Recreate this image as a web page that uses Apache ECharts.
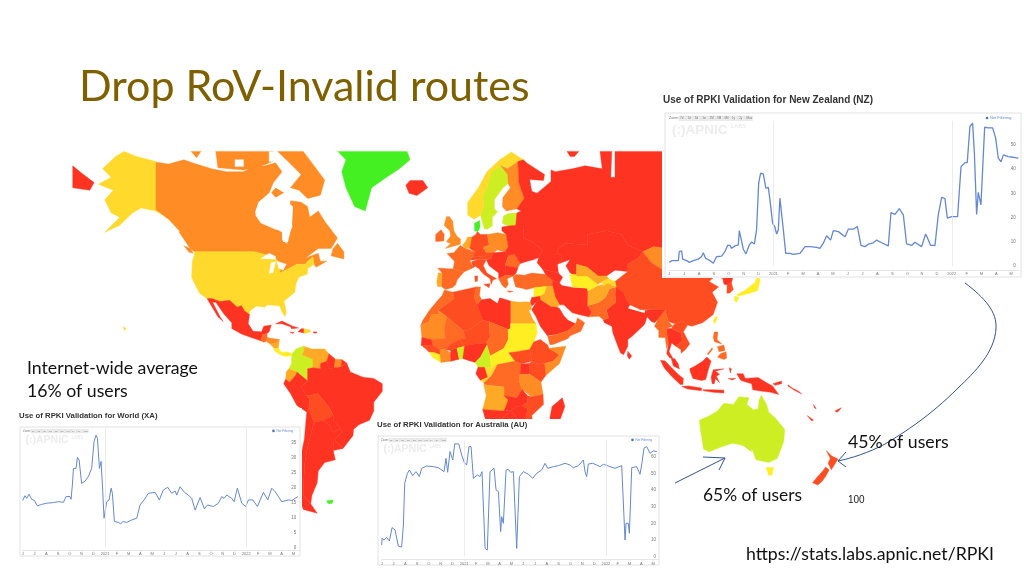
<!DOCTYPE html>
<html lang="en">
<head>
<meta charset="UTF-8">
<title>Drop RoV-Invalid routes</title>
<script src="https://cdn.jsdelivr.net/npm/echarts@6/dist/echarts.min.js"></script>
<style>html,body{margin:0;padding:0;background:#fff}</style>
</head>
<body>
<div id="main" style="width:1024px;height:576px;"></div>
<script>
// x axis of all three insets, one label per month from Jul 2020
const monthLabels = ['J','J','A','S','O','N','D','2021','F','M','A','M','J','J','A','S','O','N','D','2022','F','M','A','M'];
const yearLines = [7, 19];
const zoomButtons = ['7d','1d','3d','1w','1M','3M','6M','1y','2y','Max'];

// [month, percent]
const nzValues = [[0,1.5],[.16,2.2],[.61,2.2],[.67,5.9],[.83,6.3],[.9,2.8],[1.17,2.2],[1.35,1.5],[1.61,2.2],[1.95,2.8],[2.17,3.9],[2.29,5.5],[2.44,3.2],[2.74,2.2],[2.96,1.1],[3.18,3.9],[3.52,4.1],[3.74,5.9],[3.92,8.5],[4.08,8.5],[4.19,7.3],[4.42,8.3],[4.64,8.7],[4.71,14.6],[4.82,13.8],[4.98,6.9],[5.16,5],[5.38,8.7],[5.54,9.9],[5.72,9.1],[5.87,14.9],[6.01,34.2],[6.14,38.3],[6.32,38],[6.5,32.1],[6.66,32.5],[6.77,27.3],[6.95,17.6],[7.09,16.3],[7.22,13.2],[7.33,14.9],[7.44,28],[7.56,28.4],[7.67,14.9],[7.83,5.2],[8.12,5.2],[8.34,4.8],[8.79,5.2],[9.13,8],[9.46,8],[9.91,7.7],[10.13,7.3],[10.36,9.4],[10.58,12.5],[10.85,10.7],[11.03,14.6],[11.37,14.2],[11.82,12.1],[12.04,15.2],[12.38,15.2],[12.65,16.3],[12.89,8.5],[13.16,8],[13.39,9],[13.72,9.6],[13.95,10.7],[14.28,9.6],[14.73,8.3],[14.91,22],[15.18,21.3],[15.47,23.7],[15.74,21.1],[15.96,9.1],[16.3,8.5],[16.52,9.8],[16.97,8],[17.24,13.2],[17.38,11.4],[17.58,8.5],[17.87,8.5],[18.09,21.1],[18.32,28.4],[18.54,27.8],[18.7,19.8],[18.99,20.4],[19.39,20.4],[19.62,41],[19.89,42.7],[20.04,42.7],[20.22,57.6],[20.4,59],[20.52,46.6],[20.67,21.3],[20.78,30.4],[20.96,25.2],[21.21,57.3],[21.46,57],[21.75,57],[21.95,52.8],[22.13,44.5],[22.31,43],[22.47,45.9],[22.8,45.2],[23.14,44.9],[23.48,44.5]];
const worldValues = [[0,15.6],[.2,17.2],[.34,16.3],[.54,17.7],[.76,16],[.99,15.6],[1.25,13.8],[1.61,14.3],[2.04,14.7],[2.61,14.9],[3.03,15.2],[3.46,15],[3.68,16.9],[4.02,16.9],[4.11,16],[4.22,20.8],[4.31,26.3],[4.53,26.3],[4.65,30],[4.79,29.1],[5.01,21.3],[5.3,22.1],[5.58,23.6],[5.86,26.3],[6.06,35.2],[6.23,37.4],[6.35,36.3],[6.52,26.3],[6.66,28.6],[6.8,18.6],[6.91,9.7],[7.14,15.2],[7.34,15.8],[7.51,19.7],[7.62,18],[7.79,8.6],[8.13,8.3],[8.33,7.8],[8.5,8.6],[8.84,8.3],[9.26,9.1],[9.69,9.7],[9.97,14.1],[10.31,15.8],[10.68,18],[11.25,18.3],[11.61,15.8],[11.95,19.1],[12.32,20],[12.66,18],[12.95,18.8],[13.09,17.4],[13.37,20.2],[13.74,18.3],[14.08,17.4],[14.36,16.3],[14.65,12.4],[15.07,16.6],[15.44,12.8],[15.69,14.1],[16.2,13.6],[16.63,14.7],[16.91,16.9],[17.11,16.3],[17.34,17.4],[17.76,16.3],[17.96,15.2],[18.24,19.7],[18.39,19.4],[18.61,14.7],[18.95,13.6],[19.18,15.8],[19.55,15.8],[19.94,13.6],[20.45,18.3],[20.82,15.8],[21.16,19.7],[21.44,18.6],[22.01,15.2],[22.58,15.8],[22.86,15.6],[23.37,16.9]];
const auValues = [[0,7],[.03,11],[.2,10],[.42,11.6],[.65,9.4],[.88,17.5],[1.13,16.1],[1.41,6.4],[1.69,5.8],[1.84,19.1],[1.95,44.2],[2.18,50.2],[2.34,52.2],[2.63,48.8],[2.91,51.2],[3.19,48.2],[3.39,53.2],[3.81,54.6],[4.38,54.2],[4.8,53.6],[5.28,51.2],[5.45,59.2],[5.59,50.8],[5.79,63.3],[6.02,58.2],[6.19,67.9],[6.53,67.9],[6.78,61.2],[7.01,56.6],[7.2,55.2],[7.4,66.3],[7.57,66.3],[7.77,47.2],[8.11,49.2],[8.33,48.2],[8.5,51.2],[8.76,5],[8.95,4],[9.18,51.2],[9.52,53.2],[9.69,40.2],[9.89,39.2],[9.97,29.1],[10.08,15.1],[10.17,24.1],[10.31,20.1],[10.54,52.2],[10.73,52.6],[10.93,50.8],[11.16,51.2],[11.44,5],[11.67,48.2],[12.01,51.2],[12.43,49.6],[12.8,47.2],[13.14,50.2],[13.56,52.2],[13.84,56.2],[14.07,53.2],[14.55,54.2],[14.97,54.8],[15.54,56.2],[15.96,55.2],[16.24,53.6],[16.67,54.8],[17.09,58.2],[17.23,51.2],[17.37,48.2],[17.51,55.8],[17.88,56.2],[18.22,55.2],[18.5,54.2],[18.79,55.6],[19.35,54.2],[19.77,53.2],[20.34,54.8],[20.62,10],[20.71,20.1],[20.9,20.1],[20.99,14.1],[21.19,53.6],[21.61,54.2],[21.89,49.6],[22.03,55.2],[22.23,65.3],[22.46,66.3],[22.74,62.2],[23.02,63.7],[23.31,63.3]];

// map colour classes, low share of users (red) to high (green), last one is water
const bandColors = ['#FF3322','#FF4D22','#FF6A24','#FF8C24','#FFAA26','#FFD92B','#FFEE22','#CDEE22','#44F022','#FFFFFF'];

// [country, colour class, rings of lon/lat], rough outlines
const mapShapes = [
['Alaska',5,[[[-141,69.7],[-150,70.5],[-156,71.3],[-160,70.5],[-166,68.5],[-162,67],[-168,65.7],[-161,64.5],[-165,62.5],[-162,59.5],[-158,58.5],[-165,54.6],[-158,56.5],[-152,59.5],[-148,60.7],[-141,60],[-135,58],[-130,55],[-133,58.5],[-137,59.2],[-141,60.3]],[[-156.2,20.8],[-155,19.8],[-155.8,19]]]],
['Canada',3,[[[-141,69.6],[-135,69.3],[-128,70],[-124,69.5],[-115,68.5],[-108,68],[-100,68],[-95,69],[-90,69],[-85,69.5],[-82,68],[-86,66],[-88,64],[-93,62],[-94.5,59],[-92,57],[-85,55.3],[-82,55],[-82,52.5],[-79.5,51.3],[-79,54],[-77,56],[-78,58.5],[-78,62.3],[-73,62],[-70,61],[-69,58.5],[-65,60],[-62,57.5],[-56,53],[-59,50],[-65,50],[-67,49],[-71,47],[-65,48.5],[-64,46],[-61,46],[-66,44],[-67,45],[-67.5,47.3],[-70,46],[-71,45],[-75,45],[-79,43.5],[-83,42],[-82.5,45],[-84.5,46.5],[-89,48],[-95,49],[-123,49],[-125,50],[-130,54.5],[-130,55],[-135,58],[-141,60.3]],[[-84,71.3],[-72,71.3],[-62,66.5],[-64,63.5],[-70,62.8],[-74,64.5],[-78,65],[-73,67.5],[-80,70]],[[-113,71.3],[-86,71.3],[-86,69.8],[-90,69.2],[-100,68.3],[-112,68.7]]]],
['Vancouver Island',3,[[[-128,50.8],[-125,50],[-123.5,48.5],[-125.5,48.8]]]],
['Newfoundland',3,[[[-59,47.7],[-53,46.7],[-53,49],[-56,51.5],[-58,50]]]],
['Banks Island',3,[[[-124.5,71.3],[-120,71.3],[-122,70.3]]]],
['United States',5,[[[-123,49],[-95,49],[-89,48],[-84.5,46.5],[-82.5,45],[-83,42],[-79,43.5],[-75,45],[-71,45],[-70,46],[-67.5,47.3],[-67,45],[-70,43.5],[-70,41.7],[-74,40.6],[-75.5,38],[-76,35],[-81,31.5],[-80,27],[-80.5,25.2],[-82,27],[-83,29.5],[-85,29.7],[-89,30],[-90,29],[-94,29.5],[-97,27.5],[-97.2,26],[-99.5,27.5],[-101,29.7],[-103,29],[-106.5,31.8],[-111,31.3],[-114.8,32.5],[-117.1,32.5],[-120.5,34.5],[-122.5,37.5],[-124.3,40.5],[-124,46],[-123,48]]]],
['Mexico',0,[[[-117.1,32.5],[-114.8,32.5],[-111,31.3],[-106.5,31.8],[-103,29],[-101,29.7],[-99.5,27.5],[-97.2,26],[-97.8,22],[-95.5,18.7],[-91.5,18.5],[-90.5,21],[-87,21.5],[-88,18.5],[-89,17.8],[-91,17.2],[-92,14.5],[-96,15.8],[-101,17.5],[-105.5,20],[-105.5,22.5],[-109,26],[-113,31],[-114.5,31],[-111,25],[-109.5,23],[-112,25],[-115,29.5]]]],
['Guatemala',2,[[[-92,14.5],[-91,17.2],[-89,17.8],[-89,15.9],[-88.5,15.8],[-89.5,14.2],[-90.5,13.8]]]],
['Honduras',3,[[[-88.5,15.8],[-83.2,15],[-84.5,13.2],[-87.5,13],[-89.5,14.2]]]],
['Nicaragua',4,[[[-83.2,15],[-83.7,11],[-85.7,11],[-87.5,13],[-84.5,13.2]]]],
['Panama',6,[[[-85.7,11],[-83.7,11],[-82,9],[-79.5,9.5],[-77.3,8.5],[-78,7.5],[-80.5,7.3],[-83,8.2],[-85.7,10]]]],
['Cuba',0,[[[-85,22],[-82,23.2],[-77,21],[-74.2,20.2],[-77.5,19.9],[-78,20.7],[-82,22]]]],
['Haiti',0,[[[-74.4,18.5],[-72.7,18.2],[-71.7,18],[-71.7,19.8],[-73,19.9]]]],
['Dominican Republic',5,[[[-71.7,19.8],[-69,19.3],[-68.4,18.5],[-71.5,17.7],[-71.7,18]]]],
['Jamaica',0,[[[-78.3,18.4],[-76.3,18.2],[-77,17.8]]]],
['Puerto Rico',0,[[[-67.2,18.5],[-65.6,18.4],[-66,17.9],[-67.2,18]]]],
['Colombia',7,[[[-77.3,8.5],[-75.5,10.7],[-72,12],[-71.3,11],[-72.5,8],[-70,7],[-67.5,6],[-67.5,2],[-70,1.5],[-70,-4.2],[-72,-2.5],[-75,0],[-78.8,1.5],[-77.5,4],[-77.5,7]]]],
['Venezuela',4,[[[-72,12],[-68,10.7],[-62,10.7],[-60,8.5],[-61,5],[-64,4],[-64,1.5],[-67.5,2],[-67.5,6],[-70,7],[-72.5,8],[-71.3,11]]]],
['Guyana',0,[[[-60,8.5],[-57,6],[-57.5,2],[-60,1.5],[-61,5]]]],
['Suriname',3,[[[-57,6],[-54,5.8],[-54.2,2.3],[-57.5,2]]]],
['French Guiana',0,[[[-54,5.8],[-51.7,4.2],[-54.2,2.3]]]],
['Ecuador',4,[[[-78.8,1.5],[-75,0],[-75.5,-1.5],[-78.5,-4.8],[-80.3,-3.4],[-80,0]]]],
['Peru',0,[[[-80.3,-3.4],[-78.5,-4.8],[-75.5,-1.5],[-75,0],[-72,-2.5],[-70,-4.2],[-73,-7],[-70.5,-11],[-69,-12.5],[-69.5,-17.5],[-70.4,-18.4],[-75,-15.5],[-78,-10],[-81.2,-5.5]]]],
['Brazil',0,[[[-61,5],[-60,1.5],[-57.5,2],[-54.2,2.3],[-51.7,4.2],[-50,0],[-44,-2.5],[-39,-3],[-35,-5.5],[-35,-9],[-39,-14],[-39,-18],[-41,-22],[-46,-24],[-48.5,-26],[-48.7,-28.5],[-53.4,-33.7],[-57.6,-30.2],[-53.8,-27],[-54.6,-25.5],[-58,-22],[-58,-19.8],[-60,-16.3],[-65.3,-10],[-69,-11],[-70.5,-11],[-73,-7],[-70,-4.2],[-70,1.5],[-67.5,2],[-64,1.5],[-64,4]]]],
['Bolivia',1,[[[-69,-12.5],[-70.5,-11],[-69,-11],[-65.3,-10],[-60,-16.3],[-58,-19.8],[-62.5,-22],[-67,-23],[-69.5,-17.5]]]],
['Paraguay',0,[[[-62.5,-22],[-58,-19.8],[-58,-22],[-54.6,-25.5],[-58,-27.3],[-60,-24]]]],
['Uruguay',0,[[[-57.6,-30.2],[-53.4,-33.7],[-58,-34.5]]]],
['Chile',0,[[[-70.4,-18.4],[-69.5,-17.5],[-67,-23],[-70,-33],[-71.5,-40],[-72,-50],[-69,-52],[-65.5,-55],[-72,-54],[-75.5,-48],[-73.5,-38],[-71.5,-30]]]],
['Argentina',0,[[[-67,-23],[-62.5,-22],[-60,-24],[-58,-27.3],[-54.6,-25.5],[-53.8,-27],[-57.6,-30.2],[-58,-34.5],[-57,-38],[-62,-39],[-65,-42],[-65.5,-46],[-68,-50],[-68.5,-52.3],[-72,-50],[-71.5,-40],[-70,-33]]]],
['Falkland Islands',8,[[[-61,-51.5],[-58,-51.3],[-58.5,-52.3],[-60.5,-52.3]]]],
['Greenland',8,[[[-55.8,71.3],[-23.4,71.3],[-22,70],[-27,68.5],[-33,67],[-40,65],[-43,60],[-48,61],[-52,65],[-54,68],[-52,70]]]],
['Iceland',0,[[[-24,65.5],[-22,66.4],[-16,66.4],[-13.7,65],[-18.8,63.4],[-22.5,63.9]]]],
['United Kingdom',3,[[[-5.5,50],[1.5,51.2],[1.7,52.7],[0,53.5],[-1.5,55],[-2,57.5],[-3.5,58.6],[-5,58.6],[-6,56.5],[-3.3,54.9],[-3,53.5],[-5,52],[-3,51.4]]]],
['Ireland',2,[[[-10,52],[-6.2,52.2],[-6,54],[-7.5,55.3],[-10,54]]]],
['France',2,[[[-4.7,48.4],[-1.5,48.7],[1.5,50.9],[4,50],[8.2,49],[7.6,47.5],[6,46.3],[7.5,43.8],[3.2,42.4],[-1.8,43.4],[-1.2,46]]]],
['Spain',2,[[[-9,43.7],[-1.8,43.4],[3.2,42.4],[0,39.5],[-0.5,38],[-2,36.8],[-5.5,36],[-7.4,37.2],[-7,42]]]],
['Portugal',4,[[[-8.8,42],[-7,42],[-7.4,37.2],[-9,37],[-9.5,38.8]]]],
['Benelux',4,[[[2.5,51],[4,52],[5,53.3],[7,53.3],[6,50],[4,50]]]],
['Germany',1,[[[7,53.3],[8.8,54],[9.5,54.8],[11,54],[14.2,54],[15,51],[12.2,50.3],[13.8,48.7],[13,47.5],[7.6,47.5],[8.2,49],[6,50]]]],
['Denmark',8,[[[8.2,55],[8.2,57],[10.6,57.7],[10.8,56],[9.8,54.8]]]],
['Sweden',7,[[[11,59],[12.5,61],[12,63.5],[14,65],[16,68],[20.5,69],[23.7,67.5],[24,65.8],[21.5,65],[17.5,62.5],[17.5,60.5],[19,59.8],[16.5,58.5],[16.5,56.3],[14.3,55.5],[12.8,55.5]]]],
['Norway',5,[[[5,59],[5,62],[10,65],[14,68],[20,70],[25.5,71.2],[31,70],[28.5,69.7],[23.7,68.5],[20.5,69],[16,68],[14,65],[12,63.5],[12.5,61],[11,59],[8,58]]]],
['Finland',3,[[[20.5,69],[23.7,68.5],[28.5,69.7],[29,66],[31.5,62.8],[28,60.5],[23,60],[21.3,61],[21.5,63],[25,65],[24,65.8],[23.7,67.5]]]],
['Baltics',7,[[[21.2,57],[21.8,58.8],[24,59.4],[28,59.5],[27.5,56.5],[24,56.3]]]],
['Poland',3,[[[14.2,54],[19,54.5],[23,54],[24,50.5],[22.5,49],[19,49.5],[15,51]]]],
['Czechia',3,[[[12.2,50.3],[15,51],[18.8,49.5],[17,48.7],[13.8,48.7]]]],
['Austria',1,[[[7.6,47.5],[13,47.5],[13.8,48.7],[17,48.7],[16,46.8],[10,46.5],[6,46.3]]]],
['Italy',1,[[[7.5,43.8],[6.8,45.8],[10,46.5],[13.7,46.5],[12.3,44.5],[14,42],[18.5,40],[16.8,39.5],[16,38],[15.5,40],[12.3,41.7],[10.3,43.5],[8.5,44.3]],[[12.5,38],[15.5,38.2],[15,36.7]],[[8.3,41],[9.7,41],[9.5,39.1],[8.5,39]]]],
['Balkans',0,[[[13.7,46.5],[16,46.8],[17,48.7],[22.5,49],[24,47.8],[22.5,44.5],[23,41.3],[19.5,40],[19.5,42],[15,44.5]]]],
['Romania',2,[[[22.5,44.5],[24,47.8],[27,48.3],[29.6,45.2],[28.5,43.8]]]],
['Bulgaria',0,[[[22.5,44.5],[28.5,43.8],[27.7,42],[26.3,41],[23,41.3]]]],
['Greece',2,[[[19.5,40],[23,41.3],[26.3,41],[23.5,40],[24,38],[22.8,36.5],[21.2,37.5]],[[23.5,35.5],[26.3,35.3],[24.5,34.9]]]],
['Ukraine and Belarus',0,[[[23,54],[24,50.5],[22.5,49],[24,47.8],[27,48.3],[29.6,45.2],[33,46],[36,46.5],[38.3,47.2],[40,49.5],[35,52],[31,53],[31,56],[28,56],[27.5,56.5],[24,56.3],[21,56],[21,55]]]],
['Turkey',2,[[[26.3,41],[28,41.5],[31.5,41.2],[35,42],[41.5,41.5],[44.7,39.5],[44.7,37.2],[42,37.2],[36,36.7],[32.5,36],[30.5,36.5],[27.5,37],[26.5,39.5]]]],
['Russia',0,[[[28.5,69.7],[31,70],[33,69.4],[41,67.5],[40.5,66.4],[34,66.6],[35,64.3],[37.5,63.9],[40,64.8],[44,66.2],[44,68.3],[46,68],[54,68.5],[60,69],[68,68.5],[67,71.3],[72.5,71.3],[72,67],[74,67],[74,71.3],[180,71.3],[180,65],[177,62.5],[170,60],[164,60],[162,56],[156.7,51],[155.5,57],[163,61],[155,59.5],[143,59.3],[137,54],[141,53],[140,48.5],[133,43],[131,43],[135,48.5],[131,48],[125,53],[120,53.5],[116,50],[108,49.5],[103,50.5],[98,50],[92,50.5],[87,49],[80,51],[77,54],[70,55],[61,54],[61,51],[51,51.5],[47.5,50],[46.7,48.5],[49,48],[49,46.3],[47,45],[47.5,42],[40,43.4],[37.5,45.5],[38.3,47.2],[40,49.5],[35,52],[31,53],[31,56],[28,56],[27.5,56.5],[28,59.5],[30,60],[28,60.5],[31.5,62.8],[29,66]],[[-180,65],[-172,64.5],[-170,66],[-175,67.5],[-180,69]],[[51.5,71.3],[57,71.3],[55,70.5],[53,70.5]]]],
['Kazakhstan',0,[[[47,45],[49,46.3],[49,48],[46.7,48.5],[47.5,50],[51,51.5],[61,51],[61,54],[70,55],[77,54],[80,51],[87,49],[85,47],[80,45],[80,42.5],[74,43],[70,41],[66,41],[61,44],[56,45],[56,41],[53,42],[51,44.5],[53,46.5]]]],
['Mongolia',3,[[[87,49],[92,50.5],[98,50],[103,50.5],[108,49.5],[116,50],[120,47],[112,44],[105,41.7],[97,42.7],[91,45.5]]]],
['China',1,[[[74,39],[80,42.5],[80,45],[85,47],[87,49],[91,45.5],[97,42.7],[105,41.7],[112,44],[120,47],[116,50],[120,53.5],[125,53],[131,48],[135,48.5],[131,43],[124.5,40],[121,41],[118,39],[122.5,37],[119.5,35],[122,31],[120,26],[115,22.5],[110,21],[108,21.5],[106,23],[102,22],[99,23],[97.5,28],[92,28],[86,28],[81,30],[79,32.5],[78,35],[74.5,37]]]],
['Japan',6,[[[130.9,34],[135,35.7],[139.5,38.5],[141,41.3],[142,39.5],[140.7,35.5],[136.5,34.5],[132,33.5]],[[140,42],[141.5,45.4],[145.5,43.5],[143,42]],[[130,33.5],[132,33],[131,31],[130,31.5]]]],
['South Korea',1,[[[126.5,37.8],[128.5,38.5],[129.4,36],[127.8,34.7],[126.4,34.6]]]],
['North Korea',0,[[[124.5,40],[130,42.5],[128.5,38.5],[126.5,37.8],[125,38]]]],
['Taiwan',6,[[[121,25],[122,25],[120.8,22],[120,23.2]]]],
['Philippines',2,[[[120.5,18.4],[122.2,18.4],[121.8,15],[124,13],[120.6,14],[120,16]],[[122,7],[123.5,8.6],[126,9.5],[126.3,6.5],[125,5.8]],[[122,11.8],[125,12.5],[125.5,10],[122.7,9.5]],[[117.2,8.4],[119.5,11.3],[119.7,10.6],[117.8,8.2]]]],
['Thailand',0,[[[98,20],[100.5,20],[105,18],[105.5,14.5],[102.5,12],[100.5,13.5],[99.3,9.5],[101,6.5],[99.7,6.5],[98.2,8.5],[99,13],[98.5,16]]]],
['Myanmar',2,[[[92.5,21],[94,24],[97.5,28],[99,23],[101,21],[98,20],[98.5,16],[99,13],[98.2,11],[97.5,16],[94.5,16],[94.5,19]]]],
['Vietnam and Laos',1,[[[101,21],[102,22],[106,23],[108,21.5],[106,18.5],[109,13],[107,10.5],[105,8.7],[104.8,10.5],[102.5,12],[105.5,14.5],[105,18],[100.5,20]]]],
['Malaysia',0,[[[100.3,6.5],[102,6.2],[103.5,4],[104.2,1.4],[101.3,2.8]]]],
['Indonesia',0,[[[95.3,5.5],[97.5,5.2],[100.5,2],[103.5,-1],[106,-3],[105.8,-5.9],[104.5,-5.8],[100.5,-2],[97,2]],[[105.2,-6.8],[108.5,-6.5],[114.5,-7.5],[114.5,-8.7],[108,-7.9]],[[115,-8.3],[120,-8.3],[125,-8.5],[125,-9.8],[120,-9.5],[115.5,-8.8]],[[109,1.5],[111.5,2.8],[115,5],[117,7],[119,5.2],[117.7,1],[116.5,-3.5],[114.5,-4],[110.5,-3],[109.3,0]],[[119.5,-5.5],[119,-2.5],[120,1],[125,1.5],[121,0.3],[123,-1],[121.5,-2],[123,-5],[121,-3],[120.5,-5.5]],[[127.5,2],[128.5,1.5],[128,-0.5]],[[127,-3],[130.5,-3],[129,-3.8]]]],
['Papua New Guinea',0,[[[131,-0.8],[134,-0.8],[135,-3],[141,-2.6],[145,-5],[147.8,-6.5],[150.7,-10.5],[147,-9.5],[143,-9],[138.5,-8.3],[138,-5.5],[133,-4],[132,-2.5]],[[148,-5.5],[152,-4.2],[152,-5.5],[149,-6.2]]]],
['Pacific islands',0,[[[155,-6],[157,-7.5],[160,-9],[161.5,-10.3],[158,-8.5],[155,-6.5]],[[167,-15],[168.2,-17],[167.3,-16.5]],[[164,-20],[167,-22],[166,-22.3]],[[177,-18],[180,-16.5],[179,-17.7],[178,-18.5]]]],
['Sri Lanka',0,[[[80,9.7],[81.8,7.5],[80.7,6],[79.8,7.5]]]],
['India',0,[[[74.5,37],[78,35],[79,32.5],[81,30],[80,28.5],[88,26.5],[88.2,27.8],[92,28],[97.5,28],[94,24],[92.5,22.5],[91,23],[89,25],[88,22],[87,21],[82,16.5],[80,15],[80,12],[78,8],[76.5,9],[73,18],[72.5,21],[69,22.5],[68.5,23.8],[71,24.5],[70,28],[74.5,31],[74,34]]]],
['Pakistan',2,[[[61.5,25],[66.5,25.3],[68.5,23.8],[71,24.5],[70,28],[74.5,31],[74,34],[74.5,37],[71.5,36.3],[69.5,33],[66.5,31],[61,29.6],[63,27]]]],
['Afghanistan',4,[[[61,29.6],[66.5,31],[69.5,33],[71.5,36.3],[74.5,37],[71,38.4],[65.5,37.3],[61.2,35.5]]]],
['Iran',0,[[[44.7,39.5],[48,38.5],[49,37.5],[54,36.8],[61,36.5],[61.2,35.5],[61,29.6],[63,27],[61.5,25],[57,26],[54,26.7],[50,30],[48,30],[46,33],[44.7,37.2]]]],
['Turkmenistan',6,[[[52.8,41.5],[56,41.5],[61,41],[66,38],[65.5,37.3],[61.2,35.5],[61,36.5],[54,37]]]],
['Uzbekistan',4,[[[56,41],[56,45],[61,44],[66,41],[70,41],[71,40],[66,38],[61,41]]]],
['Tajikistan',5,[[[68,39],[71,40],[74,39],[74.5,37],[71,38.4],[68,37.2]]]],
['Caucasus',0,[[[40,43.4],[47.5,42],[49.5,40.5],[48,38.5],[44.7,39.5],[41.5,41.5]]]],
['Syria',6,[[[36,36.7],[42,37.2],[41,34.5],[38.8,33.4],[36,33]]]],
['Iraq',4,[[[42,37.2],[44.7,37.2],[46,33],[48,30],[47,29],[44,29.2],[39,32],[38.8,33.4],[41,34.5]]]],
['Saudi Arabia',0,[[[35,28],[37,25],[39,21],[42.5,16.5],[43,17],[46.5,17.3],[52,19],[55.5,22],[52,23.5],[50,25.5],[48,28.5],[47,29],[44,29.2],[39,32],[37,31]]]],
['Yemen',2,[[[42.5,16.5],[43.5,12.7],[45,12.8],[52,15.5],[53,16.7],[52,19],[46.5,17.3]]]],
['Oman',2,[[[52,19],[53,16.7],[58,18.8],[59.8,22.5],[56.5,24.5],[55.5,22]]]],
['Israel and Jordan',0,[[[34.3,31],[35,29.5],[37,31],[39,32],[38.8,33.4],[36,33],[35,33]]]],
['Egypt',4,[[[25,31.5],[29,31],[32,31.2],[34.3,31],[35,28],[33.5,28],[32.7,29.5],[35.5,24],[37,22],[25,22]]]],
['Morocco',2,[[[-5.9,35.8],[-2,35],[-1.2,32.5],[-8.7,27.7],[-8.7,26],[-12,26],[-13,23],[-17,21.3],[-16,23.5],[-13,27.7],[-9.8,31],[-7,33.7]]]],
['Algeria',1,[[[-2,35],[9,37],[8,33],[9.5,30],[12,23.5],[6,19.5],[3,19],[-4.8,25],[-8.7,27.7],[-1.2,32.5]]]],
['Tunisia',2,[[[9,37],[11,37],[10.5,33.8],[11.5,32],[9.5,30],[8,33]]]],
['Libya',0,[[[11.5,32],[15.5,32.5],[19,30.5],[20,32.8],[25,31.5],[25,20],[24,19.5],[15,23],[12,23.5],[9.5,30]]]],
['Mauritania',3,[[[-17,21.3],[-13,23],[-12,26],[-8.7,26],[-8.7,27.7],[-4.8,25],[-6,20],[-5.5,15.5],[-12,15],[-16.5,16]]]],
['Mali',2,[[[-4.8,25],[3,19],[4,15.5],[1,15],[-3,13],[-5.5,10.5],[-8,10.5],[-11.5,12.5],[-12,15],[-5.5,15.5],[-6,20]]]],
['Niger',1,[[[3,19],[6,19.5],[12,23.5],[15,23],[15.5,16],[13.5,13.5],[8,13],[3.5,12],[1,15],[4,15.5]]]],
['Chad',2,[[[15,23],[24,19.5],[24,15],[22,11],[15.5,7.5],[14,12.5],[13.5,13.5],[15.5,16]]]],
['Sudan',6,[[[24,19.5],[25,20],[25,22],[37,22],[37.5,18],[36,14],[34,10.5],[28,9.5],[24,9],[22,11],[24,15]]]],
['South Sudan',1,[[[24,9],[28,9.5],[34,10.5],[35,5],[30,3.7],[27,5]]]],
['Ethiopia',1,[[[34,10.5],[36,14],[39,15],[42.5,12.5],[43,11],[48,8],[45,5],[41,4],[38,3.6],[35,5]]]],
['Somalia',3,[[[43,11],[51,12],[48,4],[41.5,-1.7],[41,4],[45,5],[48,8]]]],
['Kenya',1,[[[35,5],[38,3.6],[41,4],[41.5,-1.7],[39.3,-4.7],[34,-1],[34,4]]]],
['Senegal',0,[[[-16.5,16],[-12,15],[-11.5,12.5],[-16.8,12.4]]]],
['Guinea',1,[[[-15,11],[-16.8,12.4],[-11.5,12.5],[-8,10.5],[-8,8],[-10.5,9],[-13,9.2]]]],
['Sierra Leone and Liberia',6,[[[-13,9.2],[-10.5,9],[-8,8],[-7.5,4.5],[-11.5,6.9]]]],
['Ivory Coast',3,[[[-8,10.5],[-5.5,10.5],[-3,9],[-3,5],[-7.5,4.5],[-8,8]]]],
['Burkina Faso',1,[[[-5.5,10.5],[-3,13],[1,15],[3.5,12],[0,11],[-3,10]]]],
['Ghana',0,[[[-3,10],[0,11],[1,6],[-3,5],[-3,9]]]],
['Togo and Benin',7,[[[0,11],[3.5,12],[2.7,6.3],[1,6]]]],
['Nigeria',0,[[[3.5,12],[8,13],[13.5,13.5],[14,12.5],[11,7],[8.5,4.5],[5,5.5],[2.7,6.3]]]],
['Cameroon',7,[[[8.5,4.5],[11,7],[14,12.5],[15.5,7.5],[16,2],[9.8,2.2]]]],
['Central African Republic',6,[[[15.5,7.5],[22,11],[24,9],[27,5],[19,3.5],[16,2]]]],
['Gabon',0,[[[9.8,2.2],[13,2.2],[14.5,-2.5],[11,-4],[8.8,-0.8]]]],
['Congo',5,[[[13,2.2],[16,2],[19,3.5],[16,-2],[12.5,-5],[11,-4],[14.5,-2.5]]]],
['DR Congo',2,[[[19,3.5],[27,5],[30,3.7],[29.5,-1],[29,-4],[30.5,-8.2],[28,-12],[22,-11],[22,-7],[13,-6],[12.5,-5],[16,-2]]]],
['Uganda',0,[[[30,3.7],[34,4],[34,-1],[29.5,-1]]]],
['Tanzania',3,[[[29.5,-1],[34,-1],[39.3,-4.7],[40.3,-10.5],[35,-11.5],[30.5,-8.2],[29,-4]]]],
['Angola',4,[[[12.5,-6],[22,-7],[22,-11],[24,-13],[22,-18],[12,-17.3],[13.7,-11]]]],
['Zambia',0,[[[22,-11],[28,-12],[30.5,-8.2],[33,-11],[33,-14],[30.3,-15.6],[28,-16],[25.3,-17.8],[22,-18],[24,-13]]]],
['Mozambique',1,[[[35,-11.5],[40.3,-10.5],[40.5,-15],[35,-20],[35.5,-24],[32.8,-26.5],[32,-22],[33,-17],[30.3,-15.6],[33,-14],[33,-11]]]],
['Zimbabwe',0,[[[25.3,-17.8],[28,-16],[30.3,-15.6],[33,-17],[32,-22],[29,-22]]]],
['Namibia',0,[[[12,-17.3],[22,-18],[25.3,-17.8],[20,-22],[20,-29],[15,-27]]]],
['Botswana',0,[[[20,-22],[25.3,-17.8],[29,-22],[26,-25],[20,-25]]]],
['South Africa',0,[[[16,-29],[20,-29],[20,-25],[26,-25],[29,-22],[32,-22],[32.8,-26.5],[28,-33],[20,-35],[18,-33]]]],
['Madagascar',0,[[[49.3,-12],[50.5,-16],[47,-25],[44,-25],[43.5,-21],[44.5,-16]]]],
['Australia',7,[[[113.5,-22],[114,-26],[115.5,-34],[118,-35],[124,-33],[129,-31.6],[134,-32.5],[137.8,-35],[138,-33.5],[140,-38],[146,-39],[150,-37.5],[153,-31],[153.5,-26],[149,-21],[146,-18.5],[145,-15],[142.5,-10.8],[141.5,-13],[141,-17],[139,-17.5],[135.7,-15],[136.8,-12],[132,-11.5],[129.5,-15],[125,-14.5],[122,-18],[118,-20.2]]]],
['Tasmania',6,[[[144.7,-40.8],[148.3,-40.8],[147.5,-43.5],[146,-43.5]]]],
['New Zealand',1,[[[173,-34.5],[175.5,-36.6],[178.5,-37.7],[177,-39.5],[175.3,-41.6],[173.8,-39.3],[174.8,-37.5]],[[172.7,-40.6],[174.3,-41.7],[172.7,-43.8],[171,-45.5],[169,-46.7],[166.5,-46],[168.5,-44.2],[171,-42.3]]]]
];

// lakes and channels go in a second map series on top of the land
const waterShapes = [
['Great Lakes',9,[[[-92,46.8],[-88,48.5],[-85,47.5],[-85,46.6],[-88,46.8]],[[-88,42],[-86.3,42],[-85,45.8],[-87,45.5]],[[-84.5,46],[-80,45],[-81.5,43],[-83.5,43.7]]]],
['Arctic channels',9,[[[-104,68.9],[-100,68.9],[-100,70],[-104,70]],[[-88,71.3],[-85.5,71.3],[-85.5,69.7],[-88,69.7]]]]
];
const hudsonBay = [[-94.6,59.7],[-93,62],[-87.6,64],[-81.5,62.5],[-76.8,61],[-77.3,56.5],[-79.2,51.9],[-81.5,51.9],[-82,54.6],[-87.6,56.5],[-93.7,58.6]];
const southampton = [[-85,65],[-81,64],[-85,63],[-87,64]];

function toGeo(shapes) {
  return {
    type: 'FeatureCollection',
    features: shapes.map(function (s) {
      return {
        type: 'Feature',
        properties: { name: s[0] },
        geometry: { type: 'MultiPolygon', coordinates: s[2].map(function (ring) { return [ring]; }) }
      };
    })
  };
}
echarts.registerMap('world', toGeo(mapShapes));
echarts.registerMap('water', toGeo(waterShapes));

// mercator in page pixels, the map is cut off flat along its top edge
const topLat = 71.3;
function projectLonLat(p) {
  const lat = Math.min(p[1], topLat) * Math.PI / 180;
  return [156 + (p[0] + 141) * 2.135, 372 - 122.3 * Math.log(Math.tan(Math.PI / 4 + lat / 2))];
}
function unprojectLonLat(p) {
  const m = (372 - p[1]) / 122.3;
  return [(p[0] - 156) / 2.135 - 141, (2 * Math.atan(Math.exp(m)) - Math.PI / 2) * 180 / Math.PI];
}
const mapBounds = [[-180, topLat], [180, -60]];
const mapTL = projectLonLat(mapBounds[0]);
const mapBR = projectLonLat(mapBounds[1]);

// the three screenshots pasted over the map
const insets = [
  { name: 'New Zealand', values: nzValues, yMax: 60, yStep: 10, yTop: 50, left: 669.3, right: 1018.7, top: 120.7, bottom: 266, off: 4,
    mask: [662, 112, 362, 166], box: [665, 113, 356, 164], k: 1 },
  { name: 'World', values: worldValues, yMax: 40, yStep: 5, yTop: 35, left: 22.7, right: 299.3, top: 427.3, bottom: 547.3, off: 3,
    mask: [14, 408, 288, 151], box: [20, 427, 280, 129], k: 0.78 },
  { name: 'Australia', values: auValues, yMax: 70, yStep: 10, yTop: 60, left: 381.7, right: 659, top: 440.4, bottom: 556.7, off: 3,
    mask: [375, 419, 288, 152], box: [378, 436, 281, 129], k: 0.78 }
];

function textTitle(text, x, y, size, color, family, weight) {
  return { text: text, left: x, top: y, padding: 0,
    textStyle: { fontSize: size, color: color, fontFamily: family, fontWeight: weight || 'normal' } };
}

const titles = [
  textTitle('Drop RoV-Invalid routes', 79, 66, 43, '#7F6000', 'Lato'),
  textTitle('Use of RPKI Validation for New Zealand (NZ)', 663, 95, 10, '#333', 'Liberation Sans', 'bold'),
  textTitle('Use of RPKI Validation for World (XA)', 19, 412, 7.8, '#333', 'Liberation Sans', 'bold'),
  textTitle('Use of RPKI Validation for Australia (AU)', 377, 421, 7.8, '#333', 'Liberation Sans', 'bold'),
  textTitle('Internet-wide average', 27, 359, 17.7, '#111', 'Lato'),
  textTitle('16% of users', 27, 382, 17.7, '#111', 'Lato'),
  textTitle('45% of users', 848, 433, 17.7, '#111', 'Lato'),
  textTitle('65% of users', 703, 487, 17.4, '#111', 'Lato'),
  textTitle('100', 848, 495, 10, '#222', 'Liberation Sans'),
  textTitle('https://stats.labs.apnic.net/RPKI', 746, 545, 17.7, '#111', 'Lato')
];

const graphics = [];
const grids = [], xAxes = [], yAxes = [], series = [];

function mapSeries(mapName, shapes, z) {
  return {
    type: 'map', map: mapName, z: z, silent: true, roam: false, showLegendSymbol: false,
    projection: { project: projectLonLat, unproject: unprojectLonLat },
    boundingCoords: mapBounds,
    left: mapTL[0], top: mapTL[1], width: mapBR[0] - mapTL[0], height: mapBR[1] - mapTL[1],
    label: { show: false },
    data: shapes.map(function (s) {
      const c = bandColors[s[1]];
      return { name: s[0], value: s[1], itemStyle: { areaColor: c, borderColor: c, borderWidth: 0.4 } };
    })
  };
}
series.push(mapSeries('world', mapShapes, 1));
series.push(mapSeries('water', waterShapes, 1.5));

// Hudson Bay sits above the land as its own polygon, projected like the map
graphics.push({ type: 'polygon', z: 1.8, silent: true,
  shape: { points: hudsonBay.map(projectLonLat) }, style: { fill: bandColors[9] } });
graphics.push({ type: 'polygon', z: 1.9, silent: true,
  shape: { points: southampton.map(projectLonLat) }, style: { fill: bandColors[3] } });

insets.forEach(function (ins, i) {
  const k = ins.k;
  const bx = ins.box[0], by = ins.box[1];
  graphics.push({ type: 'rect', z: 2, silent: true,
    shape: { x: ins.mask[0], y: ins.mask[1], width: ins.mask[2], height: ins.mask[3] },
    style: { fill: '#fff' } });
  graphics.push({ type: 'rect', z: 2, silent: true,
    shape: { x: bx, y: by, width: ins.box[2], height: ins.box[3] },
    style: { fill: '#fff', stroke: '#e2e2e2', lineWidth: 1 } });
  // watermark
  graphics.push({ type: 'text', z: 3, silent: true, x: bx + 7 * k, y: by + 10 * k,
    style: { text: '(:)APNIC', fill: '#ececec', fontSize: 13.5 * k, fontWeight: 'bold', fontFamily: 'Liberation Sans' } });
  graphics.push({ type: 'text', z: 3, silent: true, x: bx + 66 * k, y: by + 10 * k,
    style: { text: 'LABS', fill: '#e6e6e6', fontSize: 6 * k, fontFamily: 'Liberation Sans' } });
  // zoom buttons
  graphics.push({ type: 'text', z: 3, silent: true, x: bx + 4 * k, y: by + 3.5 * k,
    style: { text: 'Zoom:', fill: '#777', fontSize: 3.5 * k, fontFamily: 'Liberation Sans' } });
  zoomButtons.forEach(function (b, j) {
    graphics.push({ type: 'rect', z: 3, silent: true,
      shape: { x: bx + (14 + j * 7.4) * k, y: by + 3 * k, width: 6.8 * k, height: 4.5 * k },
      style: { fill: '#eee', stroke: '#ccc', lineWidth: 0.3 } });
    graphics.push({ type: 'text', z: 3, silent: true, x: bx + (15 + j * 7.4) * k, y: by + 3.7 * k,
      style: { text: b, fill: '#777', fontSize: 3 * k, fontFamily: 'Liberation Sans' } });
  });
  // legend
  const lx = bx + ins.box[2] - 34 * k;
  graphics.push({ type: 'circle', z: 3, silent: true, shape: { cx: lx, cy: by + 5 * k, r: 1.3 }, style: { fill: '#4472C4' } });
  graphics.push({ type: 'text', z: 3, silent: true, x: lx + 3, y: by + 3 * k,
    style: { text: 'Net Filtering', fill: '#6a8bd4', fontSize: 4 * k, fontFamily: 'Liberation Sans' } });

  grids.push({ left: ins.left, width: ins.right - ins.left, top: ins.top, height: ins.bottom - ins.top, z: 3, containLabel: false });
  xAxes.push({
    type: 'value', gridIndex: i, min: 0, max: 23.5, interval: 1, offset: ins.off, z: 3,
    axisLine: { onZero: false, lineStyle: { color: '#ccc', width: 0.5 } },
    axisTick: { length: 1.5, lineStyle: { color: '#ccc', width: 0.4 } },
    splitLine: { show: false },
    axisLabel: { fontSize: 4, margin: 2, color: '#777', showMinLabel: true, showMaxLabel: false,
      formatter: function (v) { return monthLabels[v] === undefined ? '' : monthLabels[v]; } }
  });
  yAxes.push({
    type: 'value', gridIndex: i, position: 'right', min: 0, max: ins.yMax, interval: ins.yStep, z: 3,
    axisLine: { show: false }, axisTick: { show: false }, splitLine: { show: false },
    axisLabel: { inside: true, fontSize: 4.5, margin: 3, color: '#777',
      formatter: function (v) { return v > ins.yTop ? '' : String(v); } }
  });
  series.push({
    name: ins.name, type: 'line', xAxisIndex: i, yAxisIndex: i, z: 4, data: ins.values,
    showSymbol: false, smooth: false, silent: true,
    lineStyle: { color: '#6488D2', width: k === 1 ? 1.3 : 1 },
    markLine: { silent: true, symbol: 'none', label: { show: false },
      lineStyle: { color: '#e4e4e4', width: 0.7, type: 'solid' },
      data: yearLines.map(function (m) { return { xAxis: m }; }) }
  });
});

// hand drawn arrows on the slide
const arrowCurves = [
  [965, 283, 985, 298, 997, 312, 996, 328],
  [996, 328, 995, 352, 975, 372, 958, 388],
  [958, 388, 930, 416, 905, 432, 885, 444],
  [885, 444, 868, 453, 852, 458, 838, 461]
];
arrowCurves.forEach(function (c) {
  graphics.push({ type: 'bezierCurve', z: 6, silent: true,
    shape: { x1: c[0], y1: c[1], cpx1: c[2], cpy1: c[3], cpx2: c[4], cpy2: c[5], x2: c[6], y2: c[7] },
    style: { fill: 'none', stroke: '#2F5597', lineWidth: 1 } });
});
graphics.push({ type: 'polyline', z: 6, silent: true,
  shape: { points: [[846, 452], [838, 461], [846, 467]] },
  style: { fill: 'none', stroke: '#2F5597', lineWidth: 1 } });
graphics.push({ type: 'polyline', z: 6, silent: true,
  shape: { points: [[675, 483], [725, 458]] },
  style: { fill: 'none', stroke: '#2F5597', lineWidth: 1 } });
graphics.push({ type: 'polyline', z: 6, silent: true,
  shape: { points: [[703, 457], [725, 458], [719, 470]] },
  style: { fill: 'none', stroke: '#2F5597', lineWidth: 1 } });

const myChart = echarts.init(document.getElementById('main'));
myChart.setOption({
  animation: false,
  backgroundColor: '#fff',
  title: titles,
  grid: grids,
  xAxis: xAxes,
  yAxis: yAxes,
  series: series,
  graphic: { elements: graphics }
});
</script>
</body>
</html>
